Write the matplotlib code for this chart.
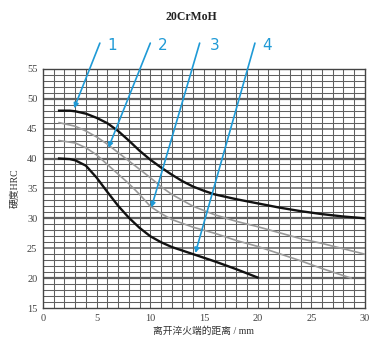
import matplotlib.pyplot as plt
import numpy as np

plt.rcParams['font.family'] = ['Liberation Serif', 'Noto Sans CJK SC', 'DejaVu Sans']

# Jominy end-quench hardness band, 20CrMoH
x1 = [1.5, 2.5, 3, 4, 5, 6, 7, 8, 9, 10, 11, 12, 13, 14, 15, 16, 18, 20, 22, 24, 26, 28, 30]
y1 = [48.0, 48.0, 47.9, 47.5, 46.8, 45.9, 44.6, 43.0, 41.3, 39.8, 38.5, 37.3, 36.2, 35.3, 34.6,
      34.0, 33.2, 32.5, 31.8, 31.2, 30.7, 30.3, 30.0]

x2 = [1.5, 3, 4, 5, 6, 7, 8, 9, 10, 11, 12, 14, 16, 18, 20, 22, 24, 26, 28, 30]
y2 = [46.0, 45.4, 44.6, 43.6, 42.4, 41.0, 39.6, 38.2, 36.8, 35.3, 34.0, 32.0, 30.6, 29.5, 28.6,
      27.6, 26.6, 25.8, 24.9, 24.0]

x3 = [1.5, 3, 4, 5, 6, 7, 8, 9, 10, 11, 12, 14, 16, 18, 20, 22, 24, 26, 28.7]
y3 = [43.0, 42.6, 41.8, 40.6, 39.0, 37.4, 35.8, 34.0, 32.0, 30.8, 29.8, 28.5, 27.5, 26.3, 25.3,
      24.1, 22.9, 21.6, 20.0]

x4 = [1.5, 2.5, 3, 4, 5, 6, 7, 8, 9, 10, 11, 12, 14, 16, 18, 20]
y4 = [40.0, 39.9, 39.7, 38.8, 36.8, 34.4, 32.1, 30.1, 28.4, 27.0, 26.0, 25.2, 24.0, 22.8, 21.5, 20.1]

# callout labels: text position and arrow tip (data units)
labels = ['1', '2', '3', '4']
label_xy = [(6.0, 58.9), (10.7, 58.9), (15.5, 58.9), (20.4, 58.9)]
line_top = [(5.3, 59.3), (10.0, 59.3), (14.6, 59.3), (19.75, 59.3)]
arrow_tip = [(2.9, 48.4), (6.1, 41.8), (10.1, 31.8), (14.2, 24.2)]

fig = plt.figure(figsize=(3.77, 3.42), dpi=100)
ax = fig.add_axes([0.114, 0.0994, 0.854, 0.6994])
ax.set_xlim(0, 30)
ax.set_ylim(15, 55)

grid_c = '#606060'
for v in range(1, 30):
    ax.axvline(v, color=grid_c, lw=0.75, zorder=1)
for h in range(16, 55):
    lw = 1.6 if h % 10 == 0 else (1.1 if h % 5 == 0 else 0.75)
    ax.axhline(h, color=grid_c, lw=lw, zorder=1)

ax.plot(x1, y1, color='#111111', lw=1.7, zorder=3)
ax.plot(x2, y2, color='#9a9a9a', lw=1.2, zorder=3)
ax.plot(x3, y3, color='#9a9a9a', lw=1.2, zorder=3)
ax.plot(x4, y4, color='#111111', lw=1.7, zorder=3)

blue = '#1f9ad6'
for lab, (tx, ty), top, tip in zip(labels, label_xy, line_top, arrow_tip):
    ax.annotate('', xy=tip, xytext=top, annotation_clip=False,
                arrowprops=dict(arrowstyle='-|>', color=blue, lw=1.2,
                                mutation_scale=7, shrinkA=0, shrinkB=0), zorder=5)
    ax.text(tx, ty, lab, color=blue, fontsize=11, family=['DejaVu Sans'],
            ha='left', va='center', clip_on=False)

ax.set_xticks(range(0, 31, 5))
ax.set_yticks(range(15, 56, 5))
ax.tick_params(length=0, labelsize=7.5, colors='#444444', pad=4)
for s in ax.spines.values():
    s.set_color('#444444')
    s.set_linewidth(1.0)

ax.set_xlabel('离开淬火端的距离 / mm', fontsize=7, color='#333333', labelpad=3)
ax.set_ylabel('硬度HRC', fontsize=7, color='#333333', labelpad=6)
fig.text(0.508, 0.951, '20CrMoH', ha='center', va='center', fontsize=8.5,
         fontweight='bold', color='#222222')

fig.savefig('out.png', dpi=100, facecolor='white')
